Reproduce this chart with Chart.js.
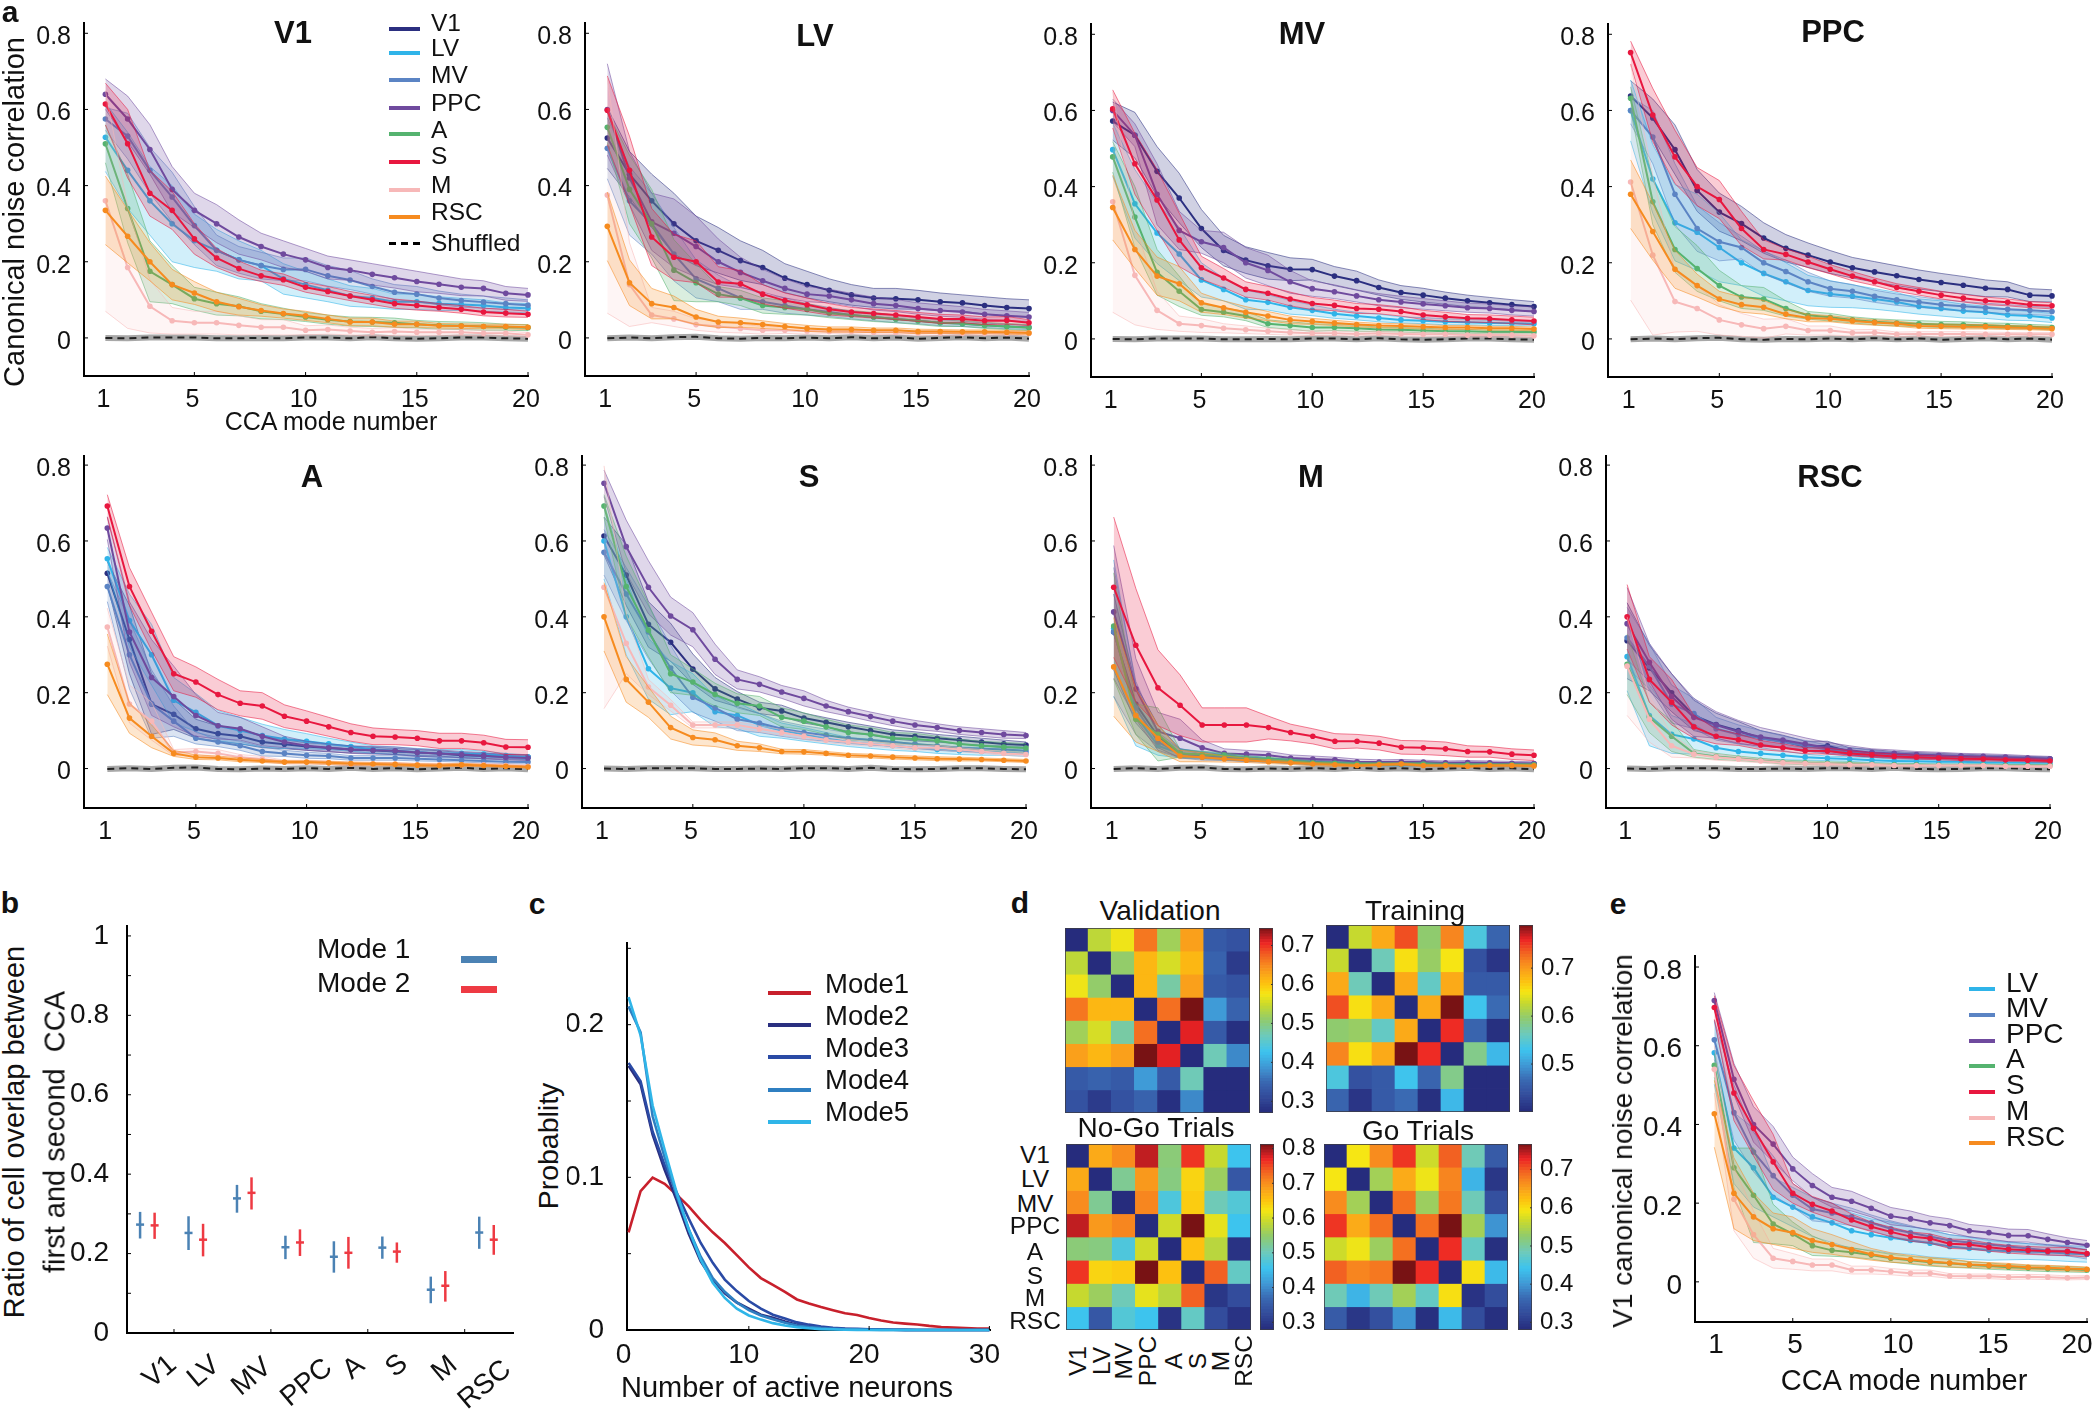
<!DOCTYPE html>
<html>
<head>
<meta charset="utf-8">
<title>CCA noise correlation</title>
<script src="https://cdn.jsdelivr.net/npm/chart.js@4"></script>
<style>
  html, body { margin: 0; padding: 0; background: #fff; }
  #page { position: relative; width: 2100px; height: 1413px; overflow: hidden; font-family: "Liberation Sans", Arial, sans-serif; color: #111; }
  canvas { position: absolute; }
  .t { position: absolute; white-space: pre; line-height: 1; }
  .sw { position: absolute; }
</style>
</head>
<body>
<div id="page"></div>
<script>
// ---------- data ----------
const areas = ['V1', 'LV', 'MV', 'PPC', 'A', 'S', 'M', 'RSC'];
const modes = [1, 2, 3, 4, 5, 6, 7, 8, 9, 10, 11, 12, 13, 14, 15, 16, 17, 18, 19, 20];
const areaColors = ['#2b2f80', '#2fb4e9', '#5b84c4', '#6f4a9e', '#55b36f', '#e8173f', '#f7b8b8', '#f68b1f'];

// canonical correlation per panel, rows in the order of areas, null = the panel's own area
const meanV1 = [null,
  [.527,.44,.36,.30,.255,.23,.205,.19,.155,.14,.125,.11,.105,.095,.095,.09,.088,.085,.08,.078],
  [.575,.53,.44,.37,.295,.23,.205,.19,.18,.18,.163,.152,.135,.12,.115,.105,.098,.094,.09,.086],
  [.64,.575,.495,.39,.335,.30,.265,.24,.22,.205,.185,.178,.167,.158,.148,.141,.133,.13,.117,.113],
  [.51,.34,.175,.14,.103,.09,.083,.07,.063,.055,.048,.043,.042,.04,.036,.033,.032,.03,.028,.027],
  [.614,.51,.38,.335,.26,.21,.182,.163,.153,.133,.122,.11,.10,.09,.085,.08,.075,.068,.065,.062],
  [.36,.185,.083,.045,.04,.04,.033,.028,.028,.02,.022,.018,.015,.017,.015,.015,.015,.012,.012,.008],
  [.335,.267,.20,.14,.118,.095,.082,.072,.064,.058,.05,.042,.042,.036,.036,.032,.031,.03,.03,.028]];
const semV1 = [null,
  [.09,.10,.09,.10,.07,.055,.05,.04,.04,.035,.03,.027,.025,.02,.02,.018,.016,.015,.012,.012],
  [.03,.06,.06,.065,.05,.04,.035,.035,.03,.03,.027,.025,.02,.02,.02,.018,.017,.016,.015,.014],
  [.04,.06,.065,.06,.045,.05,.045,.035,.035,.03,.03,.027,.028,.027,.027,.024,.022,.02,.018,.017],
  [.05,.09,.08,.05,.03,.03,.025,.02,.015,.012,.012,.012,.012,.012,.01,.01,.01,.01,.008,.008],
  [.055,.09,.06,.05,.04,.025,.02,.015,.015,.013,.013,.012,.012,.012,.012,.01,.01,.01,.01,.008],
  [.29,.16,.07,.035,.03,.03,.025,.02,.02,.012,.012,.01,.01,.01,.008,.008,.008,.007,.006,.006],
  [.09,.07,.05,.04,.03,.025,.022,.015,.012,.012,.01,.01,.01,.008,.008,.006,.006,.006,.006,.006]];

const meanLV = [
  [.525,.43,.36,.30,.255,.23,.203,.185,.157,.14,.125,.113,.105,.103,.1,.095,.092,.085,.08,.077],
  null,
  [.498,.36,.30,.22,.155,.13,.105,.095,.085,.075,.068,.06,.055,.05,.045,.04,.037,.033,.03,.028],
  [.60,.42,.305,.275,.24,.20,.172,.15,.13,.115,.11,.1,.09,.085,.077,.072,.068,.062,.058,.055],
  [.553,.39,.30,.178,.145,.115,.105,.085,.08,.075,.065,.06,.055,.05,.045,.04,.038,.033,.03,.027],
  [.598,.44,.265,.212,.20,.147,.142,.115,.098,.087,.075,.068,.064,.06,.055,.05,.05,.045,.046,.04],
  [.375,.14,.06,.05,.035,.03,.025,.02,.02,.018,.017,.017,.015,.015,.013,.013,.012,.012,.012,.012],
  [.293,.145,.09,.08,.055,.042,.04,.035,.03,.025,.022,.022,.02,.02,.017,.017,.016,.016,.015,.013]];
const semLV = [
  [.08,.06,.07,.08,.065,.06,.052,.045,.038,.035,.03,.027,.025,.027,.025,.023,.021,.023,.023,.023],
  null,
  [.08,.09,.08,.07,.05,.035,.03,.02,.02,.015,.012,.01,.01,.01,.008,.008,.007,.006,.006,.006],
  [.12,.07,.075,.09,.08,.06,.04,.03,.025,.02,.018,.017,.017,.016,.015,.015,.014,.013,.013,.012],
  [.04,.09,.09,.08,.05,.02,.02,.02,.018,.015,.012,.012,.012,.01,.01,.01,.008,.008,.008,.008],
  [.09,.09,.075,.06,.055,.04,.035,.025,.02,.018,.015,.012,.012,.012,.012,.012,.01,.01,.01,.008],
  [.31,.11,.02,.02,.015,.015,.012,.01,.008,.008,.006,.006,.006,.006,.006,.006,.005,.005,.005,.005],
  [.09,.06,.04,.03,.02,.015,.012,.01,.008,.008,.007,.007,.006,.006,.006,.005,.005,.005,.005,.005]];

const meanMV = [
  [.572,.535,.44,.37,.29,.232,.207,.192,.183,.182,.165,.153,.135,.122,.115,.107,.1,.095,.09,.085],
  [.497,.355,.278,.223,.155,.13,.103,.096,.083,.075,.066,.06,.055,.05,.048,.045,.044,.042,.041,.04],
  null,
  [.60,.535,.38,.285,.255,.24,.20,.18,.15,.132,.124,.113,.103,.097,.092,.087,.082,.08,.075,.072],
  [.478,.32,.175,.125,.077,.07,.06,.04,.035,.03,.03,.028,.025,.024,.022,.02,.02,.018,.018,.018],
  [.604,.46,.365,.26,.187,.16,.13,.12,.105,.093,.088,.08,.078,.072,.063,.058,.054,.053,.05,.047],
  [.36,.167,.075,.04,.035,.028,.024,.02,.017,.015,.015,.013,.015,.013,.012,.012,.01,.01,.01,.008],
  [.345,.235,.165,.145,.095,.082,.07,.06,.05,.046,.042,.038,.035,.034,.032,.03,.03,.028,.028,.026]];
const semMV = [
  [.05,.06,.065,.065,.05,.04,.035,.035,.03,.027,.025,.025,.02,.018,.018,.016,.015,.014,.013,.013],
  [.07,.09,.08,.07,.045,.03,.025,.02,.018,.014,.012,.01,.01,.008,.008,.008,.007,.007,.006,.006],
  null,
  [.03,.03,.08,.05,.03,.04,.04,.04,.03,.02,.018,.016,.016,.015,.014,.013,.012,.012,.012,.012],
  [.04,.08,.06,.04,.015,.012,.012,.01,.01,.01,.008,.008,.006,.006,.006,.006,.005,.005,.005,.005],
  [.05,.08,.08,.07,.03,.025,.02,.018,.018,.016,.014,.013,.012,.012,.012,.012,.01,.01,.01,.01],
  [.29,.13,.05,.02,.018,.012,.01,.008,.007,.006,.006,.005,.005,.005,.005,.005,.005,.005,.005,.005],
  [.085,.05,.05,.045,.025,.018,.015,.012,.01,.008,.007,.006,.006,.006,.006,.005,.005,.005,.005,.005]];

const meanPPC = [
  [.638,.58,.497,.39,.333,.303,.265,.238,.22,.202,.187,.176,.166,.156,.148,.141,.133,.13,.115,.113],
  [.60,.42,.305,.28,.24,.20,.172,.15,.127,.118,.112,.105,.097,.085,.08,.073,.07,.063,.06,.055],
  [.60,.53,.38,.29,.255,.24,.20,.177,.15,.132,.125,.112,.103,.097,.09,.086,.082,.078,.075,.072],
  null,
  [.632,.36,.235,.185,.14,.11,.105,.08,.062,.057,.05,.045,.042,.04,.038,.037,.035,.034,.032,.03],
  [.752,.588,.478,.40,.366,.29,.235,.222,.202,.183,.165,.15,.135,.125,.115,.107,.1,.096,.09,.087],
  [.412,.22,.098,.08,.05,.037,.027,.033,.022,.022,.016,.017,.012,.013,.013,.013,.012,.012,.012,.012],
  [.38,.282,.183,.14,.105,.09,.083,.065,.055,.053,.047,.043,.04,.034,.033,.032,.032,.03,.029,.027]];
const semPPC = [
  [.04,.05,.065,.055,.05,.045,.04,.036,.032,.03,.027,.027,.026,.025,.024,.023,.022,.02,.017,.016],
  [.08,.09,.10,.10,.09,.06,.06,.05,.04,.035,.03,.027,.025,.02,.02,.018,.016,.014,.012,.012],
  [.035,.07,.08,.06,.05,.03,.03,.03,.025,.02,.018,.016,.015,.014,.013,.012,.012,.012,.011,.011],
  null,
  [.03,.06,.06,.06,.04,.03,.03,.02,.01,.01,.008,.008,.008,.008,.008,.008,.007,.007,.006,.006],
  [.03,.07,.07,.05,.05,.045,.025,.015,.015,.012,.012,.01,.01,.01,.01,.01,.01,.009,.008,.008],
  [.31,.21,.08,.06,.04,.03,.025,.02,.012,.012,.008,.008,.006,.006,.006,.006,.006,.005,.005,.005],
  [.09,.075,.05,.03,.02,.02,.018,.012,.01,.008,.008,.007,.007,.006,.006,.006,.006,.005,.005,.005]];

const meanA = [
  [.515,.34,.17,.143,.105,.092,.085,.07,.064,.058,.054,.05,.048,.045,.042,.04,.035,.033,.031,.03],
  [.553,.39,.30,.18,.148,.113,.10,.087,.078,.072,.065,.058,.05,.047,.043,.04,.04,.038,.034,.03],
  [.48,.30,.17,.125,.08,.07,.06,.045,.04,.035,.033,.028,.028,.028,.026,.024,.022,.02,.018,.017],
  [.634,.36,.24,.19,.14,.113,.105,.085,.07,.06,.055,.05,.048,.047,.042,.04,.037,.034,.03,.028],
  null,
  [.692,.48,.362,.25,.228,.195,.172,.165,.138,.125,.11,.095,.085,.083,.08,.073,.073,.068,.057,.056],
  [.373,.17,.125,.042,.045,.04,.03,.025,.017,.017,.015,.012,.012,.012,.01,.01,.01,.01,.008,.006],
  [.275,.133,.085,.04,.03,.028,.023,.02,.017,.017,.015,.013,.012,.011,.009,.008,.01,.008,.006,.004]];
const semA = [
  [.03,.09,.08,.04,.025,.02,.02,.015,.012,.01,.01,.009,.008,.008,.008,.007,.007,.007,.006,.006],
  [.03,.07,.08,.06,.05,.04,.035,.03,.025,.02,.015,.012,.01,.01,.01,.01,.01,.008,.006,.006],
  [.04,.09,.09,.04,.015,.012,.012,.012,.008,.008,.007,.006,.006,.006,.006,.005,.005,.005,.005,.005],
  [.03,.08,.10,.08,.055,.035,.03,.025,.015,.012,.01,.01,.01,.01,.01,.009,.008,.008,.007,.007],
  null,
  [.03,.05,.05,.045,.04,.04,.033,.035,.03,.027,.025,.023,.022,.02,.02,.02,.02,.02,.02,.02],
  [.05,.05,.05,.008,.008,.01,.007,.007,.005,.005,.005,.005,.005,.004,.004,.004,.004,.004,.004,.004],
  [.08,.04,.03,.008,.006,.005,.005,.004,.004,.004,.004,.004,.004,.004,.004,.004,.004,.003,.003,.003]];

const meanS = [
  [.613,.51,.38,.333,.262,.21,.183,.16,.152,.133,.122,.11,.10,.09,.085,.08,.075,.07,.065,.062],
  [.60,.40,.263,.212,.20,.15,.14,.115,.10,.09,.08,.07,.065,.06,.055,.05,.047,.045,.043,.04],
  [.57,.46,.36,.265,.188,.16,.13,.12,.105,.095,.088,.08,.075,.07,.065,.06,.055,.052,.05,.047],
  [.752,.585,.478,.402,.366,.288,.235,.222,.202,.185,.165,.15,.137,.125,.115,.108,.1,.095,.09,.087],
  [.692,.48,.365,.25,.228,.195,.172,.165,.135,.125,.11,.095,.09,.08,.078,.073,.065,.06,.057,.054],
  null,
  [.478,.33,.215,.167,.115,.115,.115,.105,.095,.085,.075,.07,.065,.06,.055,.055,.05,.045,.04,.037],
  [.40,.235,.175,.108,.082,.076,.06,.055,.045,.044,.04,.035,.033,.03,.028,.026,.025,.024,.022,.02]];
const semS = [
  [.05,.08,.06,.05,.04,.03,.02,.015,.015,.013,.012,.012,.012,.012,.012,.01,.01,.01,.01,.008],
  [.10,.10,.08,.07,.05,.04,.035,.03,.02,.018,.015,.012,.012,.012,.01,.01,.01,.01,.008,.008],
  [.06,.07,.07,.06,.04,.035,.03,.025,.02,.018,.016,.014,.013,.012,.012,.012,.01,.01,.01,.01],
  [.035,.07,.07,.05,.045,.04,.025,.02,.017,.02,.015,.012,.012,.012,.012,.01,.01,.01,.01,.008],
  [.03,.08,.07,.05,.035,.03,.025,.025,.025,.022,.02,.02,.018,.015,.015,.012,.012,.012,.012,.012],
  null,
  [.32,.08,.02,.015,.008,.008,.008,.008,.008,.008,.007,.007,.006,.006,.006,.006,.005,.005,.005,.005],
  [.09,.06,.04,.03,.02,.018,.012,.01,.006,.006,.005,.005,.005,.005,.005,.005,.005,.004,.004,.004]];

const meanM = [
  [.36,.17,.085,.04,.035,.03,.025,.022,.02,.017,.015,.013,.012,.012,.012,.012,.012,.012,.012,.012],
  [.37,.14,.06,.04,.035,.03,.028,.022,.018,.015,.013,.012,.011,.011,.011,.01,.01,.01,.01,.01],
  [.36,.16,.07,.04,.03,.028,.024,.022,.018,.015,.014,.012,.012,.011,.011,.01,.01,.01,.01,.01],
  [.413,.21,.098,.08,.055,.04,.038,.035,.028,.025,.023,.018,.017,.018,.017,.015,.016,.015,.014,.013],
  [.376,.13,.09,.04,.037,.035,.027,.025,.02,.015,.014,.012,.012,.012,.012,.01,.01,.01,.01,.01],
  [.478,.325,.213,.167,.115,.115,.115,.108,.095,.085,.072,.072,.067,.056,.055,.052,.045,.044,.038,.035],
  null,
  [.268,.14,.08,.033,.03,.025,.022,.018,.015,.012,.01,.008,.01,.012,.008,.008,.006,.008,.008,.007]];
const semM = [
  [.1,.05,.03,.012,.008,.007,.006,.005,.005,.005,.005,.004,.004,.004,.004,.004,.004,.004,.003,.003],
  [.18,.08,.025,.012,.01,.008,.007,.006,.005,.005,.004,.004,.004,.004,.004,.003,.003,.003,.003,.003],
  [.17,.07,.025,.012,.008,.007,.006,.005,.005,.005,.004,.004,.004,.004,.003,.003,.003,.003,.003,.003],
  [.175,.08,.05,.05,.02,.012,.01,.01,.008,.008,.007,.007,.006,.006,.005,.005,.005,.005,.005,.005],
  [.14,.04,.07,.01,.008,.007,.006,.005,.005,.004,.004,.004,.004,.004,.004,.004,.003,.003,.003,.003],
  [.185,.15,.10,.08,.045,.045,.045,.03,.022,.02,.02,.018,.018,.018,.018,.018,.015,.014,.014,.014],
  null,
  [.13,.07,.035,.015,.012,.008,.006,.005,.004,.004,.004,.003,.003,.003,.003,.003,.003,.003,.003,.003]];

const meanRSC = [
  [.337,.265,.20,.14,.116,.1,.08,.072,.058,.06,.045,.04,.037,.034,.033,.032,.03,.028,.027,.025],
  [.295,.14,.09,.078,.055,.045,.04,.035,.03,.027,.025,.022,.02,.019,.018,.018,.016,.016,.015,.015],
  [.345,.27,.17,.145,.105,.09,.08,.07,.06,.05,.045,.04,.035,.032,.03,.029,.028,.027,.026,.025],
  [.382,.28,.19,.135,.115,.097,.083,.075,.065,.055,.048,.042,.04,.037,.035,.033,.032,.03,.028,.026],
  [.275,.135,.085,.04,.032,.027,.022,.017,.015,.014,.013,.011,.01,.01,.009,.009,.009,.008,.008,.008],
  [.40,.235,.175,.11,.085,.076,.062,.055,.047,.046,.04,.036,.032,.03,.028,.026,.025,.023,.022,.02],
  [.27,.13,.06,.038,.03,.025,.02,.015,.013,.012,.01,.01,.008,.008,.008,.008,.008,.006,.006,.006],
  null];
const semRSC = [
  [.1,.06,.05,.04,.03,.024,.02,.016,.014,.012,.01,.01,.008,.008,.007,.006,.006,.006,.005,.005],
  [.09,.08,.05,.04,.025,.02,.015,.012,.008,.006,.006,.006,.005,.005,.004,.004,.004,.004,.004,.004],
  [.08,.06,.05,.04,.03,.025,.02,.016,.014,.012,.01,.008,.007,.007,.006,.006,.006,.005,.005,.005],
  [.095,.05,.06,.05,.035,.03,.025,.02,.016,.014,.012,.01,.009,.008,.008,.007,.007,.007,.006,.006],
  [.08,.04,.04,.01,.008,.006,.005,.005,.005,.004,.004,.004,.003,.003,.003,.003,.003,.003,.003,.003],
  [.085,.06,.06,.03,.02,.015,.012,.01,.008,.008,.007,.006,.006,.005,.005,.005,.005,.004,.004,.004],
  [.13,.06,.03,.01,.008,.006,.005,.005,.004,.004,.004,.004,.004,.003,.003,.003,.003,.003,.003,.003],
  null];

// panel e, V1 population
const meanE = [null,
  [.582,.34,.29,.215,.19,.165,.15,.13,.12,.112,.105,.098,.09,.085,.08,.078,.077,.075,.072,.07],
  [.615,.43,.33,.27,.22,.185,.175,.165,.15,.135,.125,.115,.105,.10,.095,.09,.085,.08,.078,.07],
  [.715,.515,.40,.35,.287,.245,.215,.205,.187,.167,.16,.15,.143,.13,.125,.118,.117,.108,.10,.093],
  [.55,.29,.22,.147,.122,.092,.08,.075,.068,.06,.055,.05,.047,.043,.04,.037,.035,.033,.032,.03],
  [.697,.48,.39,.305,.225,.197,.18,.157,.14,.127,.115,.11,.097,.095,.088,.083,.08,.078,.077,.072],
  [.54,.21,.12,.06,.052,.043,.043,.03,.03,.026,.022,.022,.015,.014,.014,.012,.013,.012,.01,.011],
  [.427,.225,.165,.135,.125,.105,.095,.082,.07,.062,.057,.052,.048,.044,.042,.04,.037,.036,.034,.032]];
const semE = [null,
  [.08,.09,.10,.05,.05,.05,.05,.045,.04,.04,.035,.035,.03,.028,.025,.022,.02,.02,.02,.02],
  [.05,.07,.05,.05,.03,.03,.025,.022,.02,.02,.018,.015,.015,.015,.012,.012,.012,.012,.012,.012],
  [.02,.04,.045,.045,.03,.03,.025,.025,.022,.022,.02,.017,.017,.016,.016,.016,.016,.014,.012,.012],
  [.03,.05,.12,.05,.03,.025,.015,.012,.01,.01,.01,.01,.01,.008,.008,.007,.007,.007,.007,.006],
  [.03,.07,.07,.07,.025,.02,.02,.015,.012,.012,.012,.012,.012,.012,.01,.01,.01,.01,.01,.009],
  [.06,.08,.06,.025,.02,.015,.015,.01,.01,.008,.008,.008,.006,.006,.006,.006,.006,.006,.005,.005],
  [.085,.09,.06,.04,.04,.03,.025,.02,.015,.012,.01,.01,.01,.008,.007,.007,.006,.006,.006,.006]];

const shuffledA = [0,-.001,.001,.001,.001,-.001,-.001,0,-.001,.001,.001,-.001,.002,-.001,-.002,-.001,.001,.001,-.001,-.002];
const shuffledB = [-.001,.001,-.001,.002,.003,-.001,-.002,0,-.001,.001,-.001,.002,-.001,.001,-.002,0,.002,-.001,.001,-.002];

// panel b
const overlapMode1 = [.273, .252, .339, .216, .192, .215, .109, .253];
const overlapMode1Lo = [.238, .209, .303, .186, .152, .187, .075, .212];
const overlapMode1Hi = [.305, .294, .373, .245, .231, .243, .142, .293];
const overlapMode2 = [.271, .235, .353, .228, .202, .205, .119, .235];
const overlapMode2Lo = [.237, .193, .311, .194, .162, .177, .079, .197];
const overlapMode2Hi = [.303, .275, .392, .261, .242, .228, .156, .272];
const overlapPositions = [1, 2, 3, 4, 5, 6, 7, 8];

// panel c
const activeNeurons = [0,1,2,3,4,5,6,7,8,9,10,11,12,13,14,15,16,17,18,19,20,21,22,23,24,25,26,27,28,29,30];
const probMode1 = [.064,.091,.0998,.0957,.0886,.081,.072,.064,.057,.049,.041,.034,.0296,.025,.020,.0174,.015,.013,.011,.0098,.0078,.0062,.0049,.0042,.0036,.0027,.002,.0016,.0013,.001,.0009];
const probMode2 = [.173,.161,.128,.105,.085,.063,.045,.033,.024,.018,.014,.010,.008,.0055,.0035,.0025,.0015,.001,.0007,.0005,.0004,.0003,.0002,.0001,0,0,0,0,0,0,0];
const probMode3 = [.175,.163,.13,.108,.09,.073,.057,.044,.033,.0255,.019,.014,.01,.0075,.005,.0035,.0022,.0015,.001,.0008,.0005,.0003,.0002,.0001,0,0,0,0,0,0,0];
const probMode4 = [.212,.195,.14,.113,.088,.066,.048,.034,.025,.018,.013,.0095,.007,.0048,.003,.002,.0012,.0008,.0005,.0003,.0002,.0001,0,0,0,0,0,0,0,0,0];
const probMode5 = [.218,.193,.147,.118,.09,.066,.046,.031,.021,.014,.0095,.0068,.0045,.003,.0018,.0011,.0006,.0004,.0002,.0001,0,0,0,0,0,0,0,0,0,0,0];

// panel d
const heatValidation = [
  [.27,.54,.57,.66,.52,.63,.33,.32],
  [.54,.27,.51,.61,.555,.61,.34,.29],
  [.57,.51,.27,.61,.48,.63,.33,.32],
  [.66,.61,.61,.27,.665,.745,.39,.34],
  [.52,.555,.48,.665,.27,.71,.33,.275],
  [.63,.61,.63,.745,.71,.27,.47,.375],
  [.33,.34,.33,.39,.33,.47,.27,.27],
  [.32,.29,.32,.34,.275,.375,.27,.27]];
const heatTraining = [
  [.4,.626,.689,.74,.595,.712,.54,.46],
  [.626,.4,.564,.654,.60,.65,.44,.41],
  [.689,.564,.4,.689,.556,.689,.45,.45],
  [.74,.654,.689,.4,.689,.79,.53,.466],
  [.595,.60,.556,.689,.4,.755,.46,.404],
  [.712,.654,.689,.79,.755,.4,.583,.52],
  [.54,.44,.45,.53,.46,.583,.4,.4],
  [.46,.41,.45,.466,.404,.52,.4,.4]];
const heatNoGo = [
  [.278,.674,.701,.786,.54,.76,.588,.455],
  [.674,.278,.524,.69,.535,.636,.556,.342],
  [.701,.524,.278,.706,.471,.642,.503,.476],
  [.786,.69,.706,.278,.594,.813,.61,.455],
  [.54,.535,.471,.594,.278,.652,.578,.289],
  [.76,.636,.642,.813,.652,.278,.733,.492],
  [.588,.556,.503,.61,.578,.733,.294,.326],
  [.455,.342,.476,.455,.289,.492,.326,.289]];
const heatGo = [
  [.28,.592,.665,.718,.567,.694,.485,.343],
  [.592,.28,.538,.64,.587,.67,.426,.295],
  [.665,.538,.28,.684,.533,.679,.485,.329],
  [.718,.64,.684,.28,.684,.767,.538,.397],
  [.567,.587,.533,.684,.28,.723,.475,.285],
  [.694,.67,.679,.767,.723,.28,.597,.431],
  [.485,.426,.485,.538,.475,.597,.29,.324],
  [.343,.295,.329,.397,.285,.431,.324,.285]];

// colormap
const cmapStops = [0, .1, .17, .25, .33, .42, .5, .58, .64, .7, .75, .8, .86, .92, .96, 1];
const cmapColors = ['#262c7d','#34509f','#3a6ab3','#3f9ad6','#3dc4ef','#6fcab8','#8fcb6e','#c6d92f','#f6e614','#fdc010','#fba51a','#f7861f','#f15a22','#ed2224','#b01c20','#781214'];

// ---------- helpers ----------
const page = document.getElementById('page');
const FONT = '"Liberation Sans", Arial, sans-serif';

function text(str, x, y, size, opt = {}) {
  const d = document.createElement('div');
  d.className = 't';
  d.textContent = str;
  d.style.left = x + 'px';
  d.style.top = y + 'px';
  d.style.fontSize = size + 'px';
  if (opt.bold) d.style.fontWeight = 'bold';
  const tx = opt.left ? '0' : '-50%';
  d.style.transform = `translate(${tx},-50%)` + (opt.rot ? ` rotate(${opt.rot}deg)` : '');
  page.appendChild(d);
}

function swatch(x0, x1, y, h, color, dashed) {
  const d = document.createElement('div');
  d.className = 'sw';
  d.style.left = x0 + 'px';
  d.style.top = (y - h / 2) + 'px';
  d.style.width = (x1 - x0) + 'px';
  d.style.height = h + 'px';
  if (dashed) d.style.background = `repeating-linear-gradient(90deg,#000 0 7px,transparent 7px 12px)`;
  else d.style.background = color;
  page.appendChild(d);
}

function rgba(hex, a) {
  const n = parseInt(hex.slice(1), 16);
  return `rgba(${n >> 16},${(n >> 8) & 255},${n & 255},${a})`;
}

function cmap(t) {
  t = Math.min(1, Math.max(0, t));
  let i = 0;
  while (i < cmapStops.length - 2 && t > cmapStops[i + 1]) i++;
  const f = (t - cmapStops[i]) / (cmapStops[i + 1] - cmapStops[i]);
  const a = parseInt(cmapColors[i].slice(1), 16), b = parseInt(cmapColors[i + 1].slice(1), 16);
  const mix = s => Math.round(((a >> s) & 255) * (1 - f) + ((b >> s) & 255) * f);
  return `rgb(${mix(16)},${mix(8)},${mix(0)})`;
}

// inward tick marks, the way the original axes have them
const inwardTicks = {
  id: 'inwardTicks',
  afterDraw(chart, args, o) {
    const { ctx, chartArea, scales } = chart;
    ctx.save();
    ctx.strokeStyle = o.color || '#000';
    ctx.lineWidth = o.width || 1;
    ctx.beginPath();
    (o.x || []).forEach(v => {
      const px = scales.x.getPixelForValue(v);
      ctx.moveTo(px, chartArea.bottom);
      ctx.lineTo(px, chartArea.bottom - o.len);
    });
    (o.y || []).forEach(v => {
      const py = scales.y.getPixelForValue(v);
      if (o.right) {
        ctx.moveTo(chartArea.right, py);
        ctx.lineTo(chartArea.right - o.len, py);
      } else {
        ctx.moveTo(chartArea.left, py);
        ctx.lineTo(chartArea.left + o.len, py);
      }
    });
    ctx.stroke();
    if (o.frame) {
      ctx.strokeStyle = o.frame;
      ctx.strokeRect(chartArea.left + .5, chartArea.top + .5, chartArea.width - 1, chartArea.height - 1);
    }
    ctx.restore();
  }
};

// puts a chart on the page so that its plot area lands exactly on rect
function addChart(rect, m, config) {
  const [l, t, r, b] = rect;
  const c = document.createElement('canvas');
  const w = r - l + m.l + m.r, h = b - t + m.t + m.b;
  c.width = w;
  c.height = h;
  c.style.left = (l - m.l) + 'px';
  c.style.top = (t - m.t) + 'px';
  c.style.width = w + 'px';
  c.style.height = h + 'px';
  page.appendChild(c);
  const rightAxis = config.options.scales.y.position === 'right';
  const xHidden = config.options.scales.x.display === false;
  config.options.responsive = false;
  config.options.animation = false;
  config.options.layout = { autoPadding: false, padding: { top: m.t, right: rightAxis ? 0 : m.r, left: 0, bottom: xHidden ? m.b : 0 } };
  config.options.scales.y.afterFit = s => { s.width = rightAxis ? m.r : m.l; };
  config.options.scales.x.afterFit = s => { s.height = xHidden ? 0 : m.b; };
  config.options.plugins = Object.assign({ legend: { display: false }, tooltip: { enabled: false } }, config.options.plugins);
  config.plugins = [inwardTicks];
  return new Chart(c, config);
}

function numberAxis(min, max, values, size, padding, extra = {}) {
  return Object.assign({
    type: 'linear', min, max,
    grid: { display: false },
    border: { display: true, color: '#000', width: 2 },
    afterBuildTicks: s => { s.ticks = values.map(value => ({ value })); },
    ticks: {
      autoSkip: false, maxRotation: 0, padding,
      color: '#111',
      font: { family: FONT, size },
      callback: v => String(v)
    }
  }, extra);
}

// band + mean curves of panels a and e
function curveChart(rect, x1, yr, means, sems, shuffled, size, xLabels = true) {
  const datasets = [];
  means.forEach((mean, i) => {
    if (!mean) return;
    const col = areaColors[i];
    const isM = areas[i] === 'M';
    const up = mean.map((y, k) => ({ x: modes[k], y: y + sems[i][k] }));
    const lo = mean.map((y, k) => ({ x: modes[k], y: y - sems[i][k] }));
    const band = {
      pointRadius: 0, borderWidth: 1, tension: 0, clip: false,
      borderColor: rgba(col, .55), backgroundColor: rgba(col, isM ? .14 : .22)
    };
    const order = 100 - i * 3;
    datasets.push(Object.assign({ data: up, fill: '+1', order }, band));
    datasets.push(Object.assign({ data: lo, fill: false, order: order - 1 }, band));
    datasets.push({
      data: mean.map((y, k) => ({ x: modes[k], y })), fill: false, order: order - 2,
      borderColor: col, backgroundColor: col, borderWidth: 2, tension: 0, clip: false,
      pointRadius: 2.8, pointBorderWidth: 0
    });
  });
  if (shuffled) {
    const pts = shuffled.map((y, k) => ({ x: modes[k], y }));
    datasets.push({ data: pts, order: 200, fill: false, borderColor: 'rgba(110,110,110,.6)', borderWidth: 6, pointRadius: 0, clip: false });
    datasets.push({ data: pts, order: 199, fill: false, borderColor: '#222', borderWidth: 2, borderDash: [7, 5], pointRadius: 0, clip: false });
  }
  const xMin = 1 - (x1 - rect[0]) * 19 / (rect[2] - x1);
  const xAxis = numberAxis(xMin, 20, [1, 5, 10, 15, 20], size, 1);
  xAxis.ticks.labelOffset = -2;
  if (!xLabels) xAxis.ticks.callback = () => '';
  const yAxis = numberAxis(yr[0], yr[1], [0, .2, .4, .6, .8], size, 5);
  yAxis.ticks.labelOffset = 4;
  addChart(rect, { l: 76, t: 30, r: 26, b: 56 }, {
    type: 'line',
    data: { datasets },
    options: {
      scales: { x: xAxis, y: yAxis },
      plugins: { inwardTicks: { x: [5, 10, 15, 20], y: [0, .2, .4, .6, .8], len: 4 } }
    }
  });
}

// one heatmap built of floating bars
function heatChart(rect, matrix, lo, hi) {
  const datasets = matrix.map((row, r) => ({
    data: row.map((v, c) => ({ x: areas[c], y: [r, r + 1], v })),
    barPercentage: 1, categoryPercentage: 1, borderWidth: 0,
    backgroundColor: ctx => cmap((ctx.raw.v - lo) / (hi - lo))
  }));
  addChart(rect, { l: 0, t: 0, r: 0, b: 0 }, {
    type: 'bar',
    data: { labels: areas, datasets },
    options: {
      scales: {
        x: { display: false, stacked: true, offset: true },
        y: { display: false, reverse: true, min: 0, max: 8 }
      },
      plugins: { inwardTicks: { len: 0, frame: 'rgba(60,60,70,.8)' } }
    }
  });
}

// the colour bar next to a heatmap
function colorBar(rect, lo, hi, tickValues) {
  const steps = 64;
  const datasets = [];
  for (let i = 0; i < steps; i++) {
    datasets.push({
      data: [[lo + (hi - lo) * i / steps, lo + (hi - lo) * (i + 1) / steps]],
      backgroundColor: cmap((i + .5) / steps),
      barPercentage: 1, categoryPercentage: 1, borderWidth: 0
    });
  }
  addChart(rect, { l: 0, t: 24, r: 50, b: 24 }, {
    type: 'bar',
    data: { labels: ['c'], datasets },
    options: {
      scales: {
        x: { display: false, stacked: true, offset: true },
        y: numberAxis(lo, hi, tickValues, 24, 0, { position: 'right', border: { display: false } })
      },
      plugins: { inwardTicks: { y: tickValues, len: 2, right: true, width: 1, color: '#333', frame: 'rgba(60,60,70,.8)' } }
    }
  });
}

// ---------- panel a ----------
const topRange = [-.1, .827], lowRange = [-.104, .824];
curveChart([84, 23, 528, 376], 105.4, topRange, meanV1, semV1, shuffledA, 25);
curveChart([585, 23, 1029, 376], 607.3, topRange, meanLV, semLV, shuffledB, 25);
curveChart([1091, 24, 1534, 377], 1112.7, topRange, meanMV, semMV, shuffledA, 25);
curveChart([1608, 24, 2052, 377], 1630.6, topRange, meanPPC, semPPC, shuffledB, 25);
curveChart([84, 456, 528, 808], 107.3, lowRange, meanA, semA, shuffledB, 25);
curveChart([582, 456, 1026, 808], 604, lowRange, meanS, semS, shuffledA, 25);
curveChart([1091, 456, 1534, 808], 1113.7, lowRange, meanM, semM, shuffledB, 25);
curveChart([1606, 456, 2050, 808], 1627.1, lowRange, meanRSC, semRSC, shuffledA, 25);

text('V1', 293, 32, 31, { bold: true });
text('LV', 815, 35, 31, { bold: true });
text('MV', 1302, 33, 31, { bold: true });
text('PPC', 1833, 31, 31, { bold: true });
text('A', 312, 476, 31, { bold: true });
text('S', 809, 476, 31, { bold: true });
text('M', 1311, 476, 31, { bold: true });
text('RSC', 1830, 476, 31, { bold: true });

text('a', 10, 12, 30, { bold: true });
text('b', 10, 903, 30, { bold: true });
text('c', 537, 904, 30, { bold: true });
text('d', 1020, 903, 30, { bold: true });
text('e', 1618, 904, 30, { bold: true });

text('Canonical noise correlation', 14, 212, 29, { rot: -90 });
text('CCA mode number', 331, 421, 25);

const legendTextY = [23, 48, 75, 103, 130, 156, 185, 212];
const legendLineY = [29, 53, 80, 108, 134, 162, 190, 217];
areas.forEach((name, i) => {
  swatch(389, 420, legendLineY[i], 4, areaColors[i]);
  text(name, 431, legendTextY[i], 24.5, { left: true });
});
swatch(389, 420, 243, 3, '#000', true);
text('Shuffled', 431, 243, 24.5, { left: true });

// ---------- panel b ----------
const bDatasets = [];
function addOverlap(means, los, his, shift, color) {
  means.forEach((m, i) => {
    const x = overlapPositions[i] + shift;
    bDatasets.push({ type: 'line', data: [{ x, y: los[i] }, { x, y: his[i] }], borderColor: color, borderWidth: 2.5, pointRadius: 0 });
  });
  bDatasets.push({
    type: 'scatter',
    data: means.map((y, i) => ({ x: overlapPositions[i] + shift, y })),
    pointStyle: 'line', pointRadius: 4, pointBorderWidth: 2.5, borderColor: color, backgroundColor: color
  });
}
addOverlap(overlapMode1, overlapMode1Lo, overlapMode1Hi, -.15, '#4b82b4');
addOverlap(overlapMode2, overlapMode2Lo, overlapMode2Hi, .15, '#ee3a43');
const bTicks = [0, .1, .2, .3, .4, .5, .6, .7, .8, .9, 1];
const bAxisY = numberAxis(0, 1.025, bTicks, 28, 10);
bAxisY.ticks.callback = v => (Math.round(v * 10) % 2 === 0 ? String(v) : '');
addChart([127, 926, 513, 1333], { l: 76, t: 40, r: 10, b: 60 }, {
  type: 'scatter',
  data: { datasets: bDatasets },
  options: {
    scales: {
      x: numberAxis(.58, 8.547, [], 28, 8),
      y: bAxisY
    },
    plugins: { inwardTicks: { x: [1.55, 3.55, 5.55, 7.55], y: bTicks, len: 4 } }
  }
});
const bLabelX = [159, 203, 251, 306, 353, 396, 444, 484];
const bLabelY = [1371, 1371, 1376, 1382, 1367, 1365, 1368, 1384];
areas.forEach((name, i) => text(name, bLabelX[i], bLabelY[i], 28, { rot: -40 }));
text('Ratio of cell overlap between', 14, 1132, 29, { rot: -90 });
text('first and second  CCA', 55, 1132, 29, { rot: -90 });
text('Mode 1', 317, 949, 28, { left: true });
text('Mode 2', 317, 983, 28, { left: true });
swatch(461, 497, 959, 7, '#4b82b4');
swatch(461, 497, 989, 7, '#ee3a43');

// ---------- panel c ----------
const cNames = ['Mode1', 'Mode2', 'Mode3', 'Mode4', 'Mode5'];
const cSeries = [probMode1, probMode2, probMode3, probMode4, probMode5];
const cColors = ['#c8202c', '#2a2f80', '#2a4aa5', '#2f7fc1', '#2fb5e8'];
const cAxisX = numberAxis(-.13, 30.05, [0, 10, 20, 30], 28, 0);
cAxisX.ticks.labelOffset = -5;
const cTicks = [0, .05, .1, .15, .2, .25];
const cAxisY = numberAxis(0, .2535, cTicks, 28, 15);
cAxisY.ticks.callback = v => ([0, .1, .2].includes(v) ? String(v) : '');
addChart([627, 943, 990, 1330], { l: 60, t: 40, r: 24, b: 50 }, {
  type: 'line',
  data: {
    datasets: cSeries.map((s, i) => ({
      data: s.map((y, k) => ({ x: activeNeurons[k], y })),
      borderColor: cColors[i], borderWidth: 2.6, pointRadius: 0, tension: 0, fill: false, order: 5 - i, clip: false
    }))
  },
  options: {
    scales: { x: cAxisX, y: cAxisY },
    plugins: { inwardTicks: { x: [10, 20, 30], y: cTicks, len: 4 } }
  }
});
const cLineY = [993, 1025, 1057, 1090, 1122];
const cTextY = [984, 1016, 1048, 1080, 1112];
cNames.forEach((name, i) => {
  swatch(768, 811, cLineY[i], 4, cColors[i]);
  text(name, 825, cTextY[i], 27.5, { left: true });
});
text('Number of active neurons', 787, 1387, 29);
text('Probablity', 548, 1146, 28.5, { rot: -90 });

// ---------- panel d ----------
heatChart([1065, 928, 1250, 1113], heatValidation, .27, .745);
heatChart([1326, 925, 1510, 1112], heatTraining, .4, .79);
heatChart([1066, 1144, 1251, 1330], heatNoGo, .278, .813);
heatChart([1324, 1144, 1508, 1330], heatGo, .28, .767);
colorBar([1259, 928, 1273, 1113], .27, .745, [.3, .4, .5, .6, .7]);
colorBar([1519, 925, 1533, 1112], .4, .79, [.5, .6, .7]);
colorBar([1260, 1144, 1274, 1330], .278, .813, [.3, .4, .5, .6, .7, .8]);
colorBar([1518, 1144, 1532, 1330], .28, .767, [.3, .4, .5, .6, .7]);
text('Validation', 1160, 911, 28);
text('Training', 1415, 911, 28);
text('No-Go Trials', 1156, 1128, 28);
text('Go Trials', 1418, 1131, 28);
const heatRowY = [1155, 1179, 1204, 1226, 1252, 1276, 1298, 1321];
const heatColX = [1078, 1102, 1124, 1148, 1174, 1198, 1221, 1244];
areas.forEach((name, i) => {
  text(name, 1035, heatRowY[i], 24.5);
  text(name, heatColX[i], 1361, 24.5, { rot: -90 });
});

// ---------- panel e ----------
curveChart([1695, 956, 2087, 1322], 1714.3, [-.102, .828], meanE, semE, null, 28, false);
const eTickNames = ['1', '5', '10', '15', '20'];
const eTickX = [1716, 1795, 1898, 1993, 2077];
eTickNames.forEach((name, i) => text(name, eTickX[i], 1344, 28));
const eNames = areas.slice(1);
const eLineY = [989, 1015, 1041, 1066, 1092, 1118, 1143];
const eTextY = [983, 1008, 1034, 1059, 1085, 1111, 1137];
eNames.forEach((name, i) => {
  swatch(1969, 1995, eLineY[i], 4, areaColors[i + 1]);
  text(name, 2006, eTextY[i], 28, { left: true });
});
text('CCA mode number', 1904, 1380, 29);
text('V1 canonical noise correlation', 1623, 1141, 28, { rot: -90 });
</script>
</body>
</html>
